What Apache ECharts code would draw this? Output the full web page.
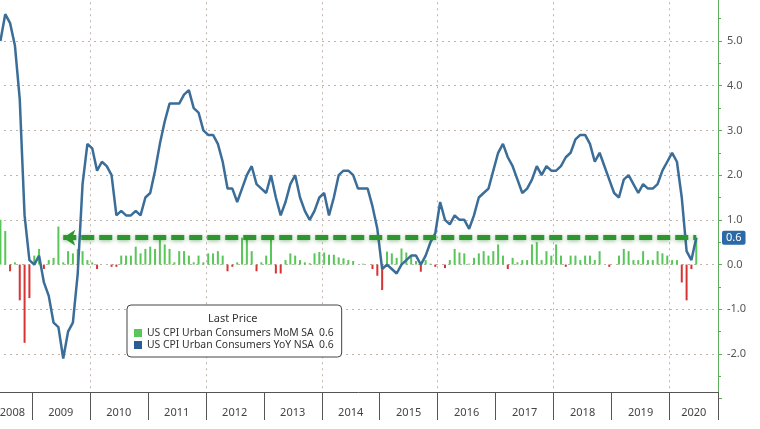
<!DOCTYPE html>
<html>
<head>
<meta charset="utf-8">
<script src="https://cdn.jsdelivr.net/npm/echarts@6/dist/echarts.min.js"></script>
<style>
html,body{margin:0;padding:0;background:#fff;}
#chart{width:760px;height:429px;}
</style>
</head>
<body>
<div id="chart"></div>
<script>
// Months shown on the axis: Jun 2008 .. Oct 2020
const startYear = 2008, startMonth = 6, monthCount = 149;
const months = [];
for (let i = 0; i < monthCount; i++) {
  const m = startMonth - 1 + i;
  const y = startYear + Math.floor(m / 12);
  const mm = (m % 12) + 1;
  months.push(y + '-' + (mm < 10 ? '0' + mm : mm));
}
// Year label placement (month whose band carries the year label)
const yearLabelMonths = ['2008-09','2009-07','2010-07','2011-07','2012-07','2013-07','2014-07',
  '2015-07','2016-07','2017-07','2018-07','2019-07','2020-06'];

// US CPI Urban Consumers YoY NSA (%), Jun 2008 .. Jun 2020
const cpiYoY = [
  5.0, 5.6, 5.4, 4.9, 3.7, 1.1, 0.1,
  0.0, 0.2, -0.4, -0.7, -1.3, -1.4, -2.1, -1.5, -1.3, -0.2, 1.8, 2.7,
  2.6, 2.1, 2.3, 2.2, 2.0, 1.1, 1.2, 1.1, 1.1, 1.2, 1.1, 1.5,
  1.6, 2.1, 2.7, 3.2, 3.6, 3.6, 3.6, 3.8, 3.9, 3.5, 3.4, 3.0,
  2.9, 2.9, 2.7, 2.3, 1.7, 1.7, 1.4, 1.7, 2.0, 2.2, 1.8, 1.7,
  1.6, 2.0, 1.5, 1.1, 1.4, 1.8, 2.0, 1.5, 1.2, 1.0, 1.2, 1.5,
  1.6, 1.1, 1.5, 2.0, 2.1, 2.1, 2.0, 1.7, 1.7, 1.7, 1.3, 0.8,
  -0.1, 0.0, -0.1, -0.2, 0.0, 0.1, 0.2, 0.2, 0.0, 0.2, 0.5, 0.7,
  1.4, 1.0, 0.9, 1.1, 1.0, 1.0, 0.8, 1.1, 1.5, 1.6, 1.7, 2.1,
  2.5, 2.7, 2.4, 2.2, 1.9, 1.6, 1.7, 1.9, 2.2, 2.0, 2.2, 2.1,
  2.1, 2.2, 2.4, 2.5, 2.8, 2.9, 2.9, 2.7, 2.3, 2.5, 2.2, 1.9,
  1.6, 1.5, 1.9, 2.0, 1.8, 1.6, 1.8, 1.7, 1.7, 1.8, 2.1, 2.3,
  2.5, 2.3, 1.5, 0.3, 0.1, 0.6
];
// US CPI Urban Consumers MoM SA (%), Jun 2008 .. Jun 2020
const cpiMoM = [
  1.0, 0.75, -0.15, 0.05, -0.8, -1.75, -0.75,
  0.2, 0.35, -0.1, 0.1, 0.15, 0.85, 0.05, 0.3, 0.25, 0.35, 0.3, 0.1,
  0.05, -0.1, 0.0, 0.0, -0.05, -0.05, 0.2, 0.2, 0.2, 0.4, 0.25, 0.35,
  0.4, 0.35, 0.55, 0.45, 0.35, 0.05, 0.3, 0.3, 0.2, 0.05, 0.2, 0.05,
  0.25, 0.25, 0.3, 0.2, -0.15, -0.05, 0.05, 0.6, 0.55, 0.3, -0.15, 0.05,
  0.2, 0.55, -0.2, -0.2, 0.1, 0.25, 0.2, 0.1, 0.05, 0.03, 0.25, 0.28,
  0.27, 0.22, 0.22, 0.16, 0.14, 0.1, 0.08, 0.0, 0.02, 0.0, -0.1, -0.25,
  -0.57, 0.29, 0.25, 0.15, 0.36, 0.27, 0.2, 0.08, -0.16, 0.1, 0.02, -0.05,
  0.0, -0.08, 0.1, 0.35, 0.27, 0.25, 0.02, 0.15, 0.25, 0.3, 0.2, 0.3,
  0.45, 0.2, -0.1, 0.15, 0.05, 0.1, 0.1, 0.45, 0.5, 0.1, 0.3, 0.2,
  0.45, 0.2, -0.05, 0.2, 0.2, 0.1, 0.2, 0.2, 0.1, 0.3, 0.0, -0.05,
  0.0, 0.2, 0.35, 0.3, 0.1, 0.1, 0.3, 0.1, 0.1, 0.3, 0.25, 0.2,
  0.1, 0.1, -0.4, -0.8, -0.1, 0.6
];
const nameMoM = 'US CPI Urban Consumers MoM SA';
const nameYoY = 'US CPI Urban Consumers YoY NSA';
const legendTitle = 'Last Price';
const arrowFromMonth = '2009-07';

const lastMoM = cpiMoM[cpiMoM.length - 1];
const lastYoY = cpiYoY[cpiYoY.length - 1];
const lastMonth = months[cpiMoM.length - 1];

const green = '#58c658', red = '#d63333', blue = '#3b6d99', axisGreen = '#5cae5c';
const font = 'Noto Sans';

const chart = echarts.init(document.getElementById('chart'), null, {renderer: 'canvas'});
chart.setOption({
  animation: false,
  backgroundColor: '#ffffff',
  textStyle: {fontFamily: font},
  grid: {left: -2, right: 42, top: -3.7, bottom: 30.3, containLabel: false, outerBoundsMode: 'none'},
  title: {
    text: legendTitle, left: 208, top: 313, padding: 0,
    textStyle: {fontSize: 11, fontWeight: 'normal', color: '#333', fontFamily: font}
  },
  legend: {
    left: 127, top: 305, orient: 'vertical',
    backgroundColor: '#fff', borderColor: '#444', borderWidth: 1, borderRadius: 4,
    padding: [22, 8, 6, 7], itemGap: 0, itemWidth: 8, itemHeight: 8, icon: 'rect',
    selectedMode: false,
    data: [
      {name: nameMoM, itemStyle: {color: green}},
      {name: nameYoY, itemStyle: {color: '#2a5d96'}}
    ],
    formatter: function (n) {
      const v = n === nameMoM ? lastMoM : lastYoY;
      return '{n|' + n + '}{v|' + v.toFixed(1) + '}';
    },
    textStyle: {
      fontSize: 10.4, color: '#333', fontFamily: font, lineHeight: 12,
      rich: {
        n: {width: 172, fontSize: 10.4, lineHeight: 12, color: '#333', fontFamily: font},
        v: {fontSize: 10.4, lineHeight: 12, color: '#333', fontFamily: font}
      }
    }
  },
  xAxis: {
    type: 'category', data: months, boundaryGap: true, offset: -6.7,
    axisLine: {show: true, onZero: false, lineStyle: {color: '#555', width: 1}},
    axisTick: {show: true, length: 28, interval: function (i, v) { return v.slice(5) === '01'; },
      lineStyle: {color: '#555', width: 1}},
    axisLabel: {
      interval: function (i, v) { return yearLabelMonths.indexOf(v) >= 0; },
      formatter: function (v) { return '{y|' + v.slice(0, 4) + '}{s| }'; },
      margin: 15, fontSize: 11, color: '#444', fontFamily: font,
      rich: {
        y: {fontSize: 11, color: '#444', fontFamily: font},
        s: {width: 5, fontSize: 11}
      }
    },
    splitLine: {
      show: true,
      interval: function (i, v) { return v.slice(5) === '01' && (+v.slice(0, 4)) % 2 === 0; },
      lineStyle: {type: [2, 4], color: '#bfb3ab', width: 1}
    }
  },
  yAxis: {
    type: 'value', position: 'right', min: -3, max: 6, interval: 1,
    axisLine: {show: true, lineStyle: {color: axisGreen, width: 1}},
    axisTick: {show: true, length: 4, lineStyle: {color: axisGreen}},
    minorTick: {show: true, splitNumber: 2, length: 3, lineStyle: {color: axisGreen}},
    axisLabel: {
      margin: 9, fontSize: 11, color: '#555', fontFamily: font,
      formatter: function (v) { return (v <= -3 || v >= 6) ? '' : v.toFixed(1); }
    },
    splitLine: {show: true, showMinLine: false, showMaxLine: false,
      lineStyle: {type: [2, 4], color: '#bfb3ab', width: 1}}
  },
  series: [
    {
      type: 'bar', name: nameMoM, data: cpiMoM, barWidth: 2, z: 2,
      itemStyle: {color: function (p) { return p.value >= 0 ? green : red; }},
      markLine: {
        silent: true, animation: false,
        symbol: ['arrow', 'none'], symbolSize: 12,
        label: {show: false},
        lineStyle: {color: '#2f962f', width: 5, type: [13, 5],
          shadowBlur: 4, shadowColor: 'rgba(20,110,20,0.45)', shadowOffsetY: 1},
        emphasis: {disabled: true},
        data: [[{coord: [arrowFromMonth, lastMoM]}, {coord: [lastMonth, lastMoM]}]]
      }
    },
    {
      type: 'line', name: nameYoY, data: cpiYoY, symbol: 'none', z: 3,
      lineStyle: {color: blue, width: 2.5}, itemStyle: {color: blue},
      markLine: {
        silent: true, animation: false, symbol: 'none',
        lineStyle: {color: 'rgba(0,0,0,0)', width: 0},
        emphasis: {disabled: true},
        label: {
          show: true, position: 'end', distance: 4,
          formatter: function () { return lastYoY.toFixed(1); },
          backgroundColor: '#2c6aa5', color: '#fff', fontSize: 11, fontFamily: font,
          padding: [2, 4, 1, 4], borderRadius: 2
        },
        data: [{yAxis: lastYoY}]
      }
    }
  ]
});
</script>
</body>
</html>
